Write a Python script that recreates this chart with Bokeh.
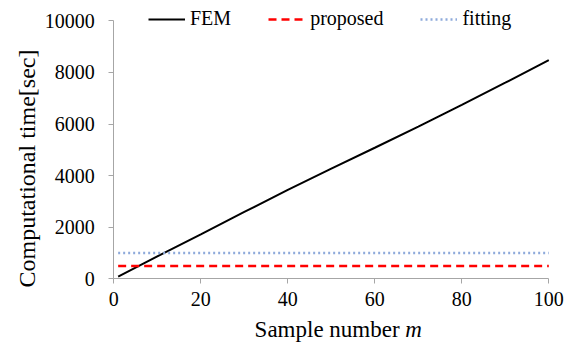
import math
from bokeh.plotting import figure
from bokeh.models import Range1d, Legend, LegendItem, Label
from bokeh.embed import file_html
from bokeh.resources import INLINE

# ---- data ----
m_fem = [1, 10, 20, 30, 40, 50, 60, 70, 80, 90, 100]
t_fem = [80, 870, 1720, 2590, 3450, 4270, 5080, 5900, 6740, 7600, 8480]
m_const = [1, 100]
t_proposed = [500, 500]
t_fitting = [1000, 1000]
x_ticks = [0, 20, 40, 60, 80, 100]
y_ticks = [0, 2000, 4000, 6000, 8000, 10000]

FONT = "Liberation Serif"
AXIS_GREY = "#A6A6A6"

p = figure(width=575, height=347, output_backend="svg", toolbar_location=None,
           x_range=Range1d(-26.05, 106.14), y_range=Range1d(-2663, 10787),
           min_border_left=0, min_border_right=0, min_border_top=0,
           min_border_bottom=0)
p.outline_line_color = None
p.xgrid.visible = False
p.ygrid.visible = False
p.background_fill_color = "white"
p.border_fill_color = "white"

r_fem = p.line(m_fem, t_fem, line_color="black", line_width=2)
r_prop = p.line(m_const, t_proposed, line_color="#FF0000", line_width=2.5,
                line_dash="8 5")
r_fit = p.line(m_const, t_fitting, line_color="#8EAADB", line_width=2.5,
               line_dash="2 3")

for ax in (p.xaxis[0], p.yaxis[0]):
    ax.axis_line_color = AXIS_GREY
    ax.major_tick_line_color = AXIS_GREY
    ax.major_tick_out = 5
    ax.major_tick_in = 0
    ax.minor_tick_line_color = None
    ax.major_label_text_font = FONT
    ax.major_label_text_font_size = "20px"
    ax.major_label_text_color = "black"
    ax.axis_label = None

p.xaxis.ticker = x_ticks
p.yaxis.ticker = y_ticks
p.xaxis.fixed_location = 0
p.yaxis.fixed_location = 0
p.xaxis.bounds = (0, 100)
p.yaxis.bounds = (0, 10000)
p.xaxis.major_label_standoff = 8
p.yaxis.major_label_standoff = 14

# y-axis title
p.add_layout(Label(x=-20.07, y=4275, text="Computational time[sec]",
                   angle=math.pi / 2, text_align="center",
                   text_baseline="middle", text_font=FONT,
                   text_font_size="24px", text_color="black"))

# x-axis title with italic m
p.add_layout(Label(x=65.7, y=-1965, text="Sample number", text_align="right",
                   text_baseline="middle", text_font=FONT,
                   text_font_size="23px", text_color="black"))
p.add_layout(Label(x=67.0, y=-1965, text="m", text_align="left",
                   text_baseline="middle", text_font=FONT,
                   text_font_size="23px", text_font_style="italic",
                   text_color="black"))

legend = Legend(items=[LegendItem(label="FEM", renderers=[r_fem]),
                       LegendItem(label="proposed", renderers=[r_prop]),
                       LegendItem(label="fitting", renderers=[r_fit])],
                orientation="horizontal", location=(148, 317),
                glyph_width=37, glyph_height=20, label_standoff=5,
                spacing=37, padding=0, margin=0,
                label_text_font=FONT, label_text_font_size="20px",
                label_text_color="black", border_line_color=None,
                background_fill_alpha=0)
p.add_layout(legend, "center")

open("out.html", "w").write(file_html(p, INLINE))
